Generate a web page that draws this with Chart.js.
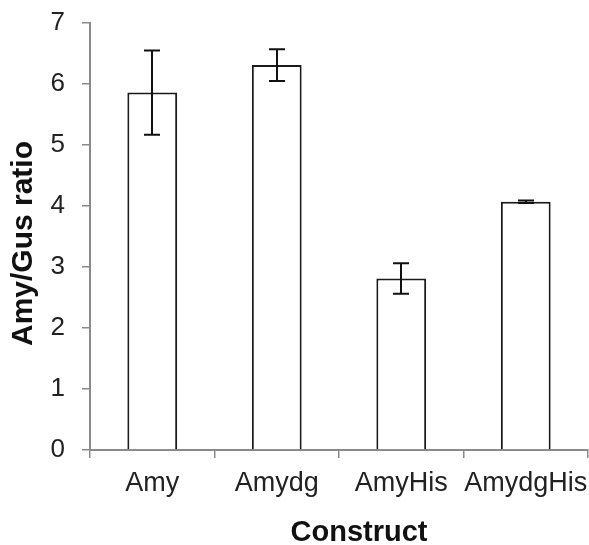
<!DOCTYPE html>
<html>
<head>
<meta charset="utf-8">
<script src="https://cdn.jsdelivr.net/npm/chart.js@4.4.1/dist/chart.umd.min.js"></script>
<style>
  html, body { margin: 0; padding: 0; background: #fff; }
  #wrap { width: 589px; height: 545px; }
</style>
</head>
<body>
<div id="wrap"><canvas id="ratioChart"></canvas></div>
<script>
  const constructs = ["Amy", "Amydg", "AmyHis", "AmydgHis"];
  const ratios = [5.86, 6.31, 2.81, 4.07];
  const ratioErrors = [0.69, 0.26, 0.25, 0.02];
  const yTicks = [0, 1, 2, 3, 4, 5, 6, 7];

  const axisGrey = "#8a8a8a";
  const xTitle = "Construct";
  const yTitle = "Amy/Gus ratio";

  // draws +/- error whiskers on top of each bar
  const errorBars = {
    id: "errorBars",
    afterDatasetsDraw(chart) {
      const ctx = chart.ctx;
      const yScale = chart.scales.y;
      const meta = chart.getDatasetMeta(0);
      ctx.save();
      ctx.strokeStyle = "#111";
      ctx.lineWidth = 2;
      meta.data.forEach((bar, i) => {
        const err = ratioErrors[i];
        const yTop = yScale.getPixelForValue(ratios[i] + err);
        const yBot = yScale.getPixelForValue(ratios[i] - err);
        const x = Math.round(bar.x);
        ctx.beginPath();
        ctx.moveTo(x, yTop);
        ctx.lineTo(x, yBot);
        ctx.moveTo(x - 8, yTop);
        ctx.lineTo(x + 8, yTop);
        ctx.moveTo(x - 8, yBot);
        ctx.lineTo(x + 8, yBot);
        ctx.stroke();
      });
      ctx.restore();
    },
  };

  // axis titles, both sit a little off the plot centre
  const axisTitles = {
    id: "axisTitles",
    afterDraw(chart) {
      const ctx = chart.ctx;
      const area = chart.chartArea;
      ctx.save();
      ctx.fillStyle = "#111";
      ctx.textAlign = "center";

      ctx.font = "bold 29px 'Liberation Sans', Arial";
      ctx.textBaseline = "alphabetic";
      ctx.fillText(xTitle, (area.left + area.right) / 2 + 20, chart.height - 4);

      ctx.font = "bold 30px 'Liberation Sans', Arial";
      ctx.textBaseline = "middle";
      ctx.translate(24, (area.top + area.bottom) / 2 + 7);
      ctx.rotate(-Math.PI / 2);
      ctx.fillText(yTitle, 0, 0);
      ctx.restore();
    },
  };

  new Chart(document.getElementById("ratioChart"), {
    type: "bar",
    data: {
      labels: constructs,
      datasets: [
        {
          data: ratios,
          backgroundColor: "#fff",
          borderColor: "#1a1a1a",
          borderWidth: 2,
          categoryPercentage: 1,
          barPercentage: 0.4,
        },
      ],
    },
    options: {
      responsive: true,
      maintainAspectRatio: false,
      animation: false,
      layout: { padding: { top: 23, right: 1, left: 0, bottom: 0 } },
      plugins: {
        legend: { display: false },
        tooltip: { enabled: false },
      },
      scales: {
        x: {
          offset: true,
          grid: {
            offset: true,
            drawOnChartArea: false,
            tickLength: 8,
            color: axisGrey,
            lineWidth: 1.5,
          },
          border: { color: axisGrey, width: 2 },
          ticks: {
            color: "#222",
            padding: 9,
            autoSkip: false,
            maxRotation: 0,
            font: { family: "Liberation Sans, Arial", size: 27 },
          },
          afterFit(scale) {
            scale.height = 95;
            // labels fit inside their categories, no extra side room needed
            scale.paddingLeft = 0;
            scale.paddingRight = 0;
          },
        },
        y: {
          min: 0,
          max: 7,
          afterBuildTicks(scale) {
            scale.ticks = yTicks.map((v) => ({ value: v }));
          },
          grid: {
            drawOnChartArea: false,
            tickLength: 8,
            color: axisGrey,
            lineWidth: 1.5,
          },
          border: { color: axisGrey, width: 2 },
          ticks: {
            color: "#222",
            padding: 17,
            font: { family: "Liberation Sans, Arial", size: 26 },
          },
          afterFit(scale) {
            scale.width = 90;
            scale.paddingTop = 0;
            scale.paddingBottom = 0;
          },
        },
      },
    },
    plugins: [errorBars, axisTitles],
  });
</script>
</body>
</html>
